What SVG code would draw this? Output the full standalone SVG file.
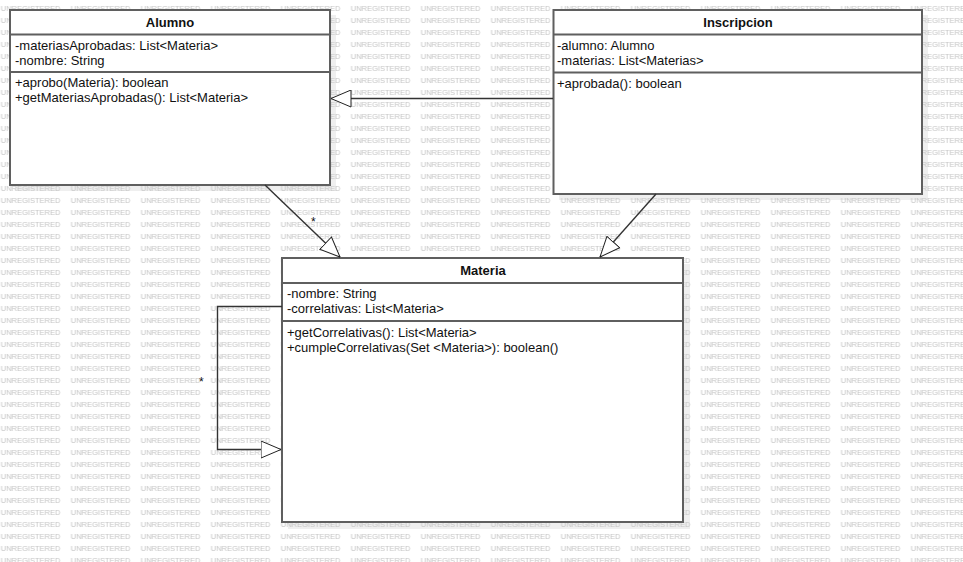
<svg xmlns="http://www.w3.org/2000/svg" width="963" height="562" viewBox="0 0 963 562">
<style>
.box{fill:#fff;stroke:#5f5f5f;stroke-width:2}
.sep{stroke:#5f5f5f;stroke-width:2}
.shadow{fill:#efefef}
.title{font-family:"Liberation Sans",Arial,sans-serif;font-size:13px;font-weight:bold;text-anchor:middle;fill:#111}
.txt{font-family:"Liberation Sans",Arial,sans-serif;font-size:13px;fill:#111}
.wm{font-family:"Liberation Sans",Arial,sans-serif;font-size:7.5px;fill:#c4c4c4}
.conn{fill:none;stroke:#333;stroke-width:1.4}
.mult{font-family:"Liberation Sans",Arial,sans-serif;font-size:12px;fill:#111}
</style>
<defs>
<pattern id="wmp" patternUnits="userSpaceOnUse" x="0.7" y="0" width="70" height="12">
<text class="wm" x="0" y="11.4">UNREGISTERED</text>
</pattern>
<marker id="tri" markerUnits="userSpaceOnUse" viewBox="0 0 21 18" refX="20.5" refY="9" markerWidth="21" markerHeight="18" orient="auto">
<path d="M0.5,0.5 L20.5,9 L0.5,17.5 Z" fill="#fff" stroke="#222" stroke-width="1"/>
</marker>
</defs>
<rect x="0" y="0" width="963" height="562" fill="#fff"/>
<g id="shadows">
<rect class="shadow" x="15" y="15" width="321" height="176"/>
<rect class="shadow" x="559" y="15" width="369" height="185"/>
<rect class="shadow" x="288" y="264" width="402" height="265"/>
</g>
<rect x="0" y="0" width="963" height="562" fill="url(#wmp)"/>
<g id="alumno">
<rect class="box" x="10" y="10" width="320" height="175"/>
<line class="sep" x1="10" y1="34.5" x2="330" y2="34.5"/>
<line class="sep" x1="10" y1="72" x2="330" y2="72"/>
<text class="title" x="170" y="27">Alumno</text>
<text class="txt" x="15" y="50">-materiasAprobadas: List&lt;Materia&gt;</text>
<text class="txt" x="15" y="65">-nombre: String</text>
<text class="txt" x="15" y="87">+aprobo(Materia): boolean</text>
<text class="txt" x="15" y="102">+getMateriasAprobadas(): List&lt;Materia&gt;</text>
</g>
<g id="inscripcion">
<rect class="box" x="553.5" y="10" width="368.5" height="184"/>
<line class="sep" x1="553.5" y1="34.5" x2="922" y2="34.5"/>
<line class="sep" x1="553.5" y1="72.5" x2="922" y2="72.5"/>
<text class="title" x="738" y="27">Inscripcion</text>
<text class="txt" x="557" y="50">-alumno: Alumno</text>
<text class="txt" x="557" y="65">-materias: List&lt;Materias&gt;</text>
<text class="txt" x="557" y="88">+aprobada(): boolean</text>
</g>
<g id="materia">
<rect class="box" x="282" y="258" width="401" height="264"/>
<line class="sep" x1="282" y1="283" x2="683" y2="283"/>
<line class="sep" x1="282" y1="321" x2="683" y2="321"/>
<text class="title" x="483" y="275">Materia</text>
<text class="txt" x="287" y="298">-nombre: String</text>
<text class="txt" x="287" y="313">-correlativas: List&lt;Materia&gt;</text>
<text class="txt" x="287" y="337">+getCorrelativas(): List&lt;Materia&gt;</text>
<text class="txt" x="287" y="352">+cumpleCorrelativas(Set &lt;Materia&gt;): boolean()</text>
</g>
<g id="connectors">
<line class="conn" x1="265" y1="185" x2="340" y2="257" marker-end="url(#tri)"/>
<line class="conn" x1="656" y1="194" x2="600" y2="257" marker-end="url(#tri)"/>
<line class="conn" x1="553" y1="98.5" x2="331" y2="98.5" marker-end="url(#tri)"/>
<polyline class="conn" points="282,306.5 217.5,306.5 217.5,449.5 281,449.5" marker-end="url(#tri)"/>
<text class="mult" x="311" y="226">*</text>
<text class="mult" x="199" y="386">*</text>
</g>
</svg>
